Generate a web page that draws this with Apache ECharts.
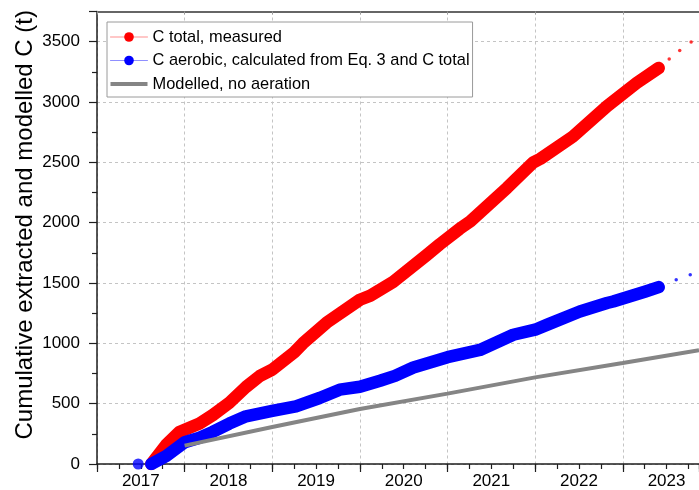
<!DOCTYPE html>
<html>
<head>
<meta charset="utf-8">
<script src="https://cdn.jsdelivr.net/npm/echarts@6/dist/echarts.min.js"></script>
<style>
  html, body { margin: 0; padding: 0; background: #fff; }
  #chart { width: 699px; height: 490px; }
</style>
</head>
<body>
<div id="chart"></div>
<script>
// Cumulative carbon extracted, [decimal year, tonnes C]
const totalMeasured = [
  [2017.62, 0], [2017.79, 160], [2017.94, 265], [2018.17, 335], [2018.32, 405],
  [2018.51, 508], [2018.70, 638], [2018.86, 730], [2019.00, 782], [2019.25, 925],
  [2019.35, 1000], [2019.62, 1171], [2020.00, 1361], [2020.12, 1395], [2020.38, 1510],
  [2020.76, 1730], [2020.91, 1820], [2021.14, 1950], [2021.26, 2010], [2021.68, 2289],
  [2021.98, 2500], [2022.06, 2530], [2022.43, 2713], [2022.82, 2965], [2023.16, 3158],
  [2023.41, 3282]
];
const totalMeasuredTail = [[2023.53, 3357], [2023.65, 3426], [2023.78, 3497]];

const aerobicCalculated = [
  [2017.62, 0], [2017.79, 66], [2018.00, 180], [2018.17, 218], [2018.32, 266],
  [2018.51, 335], [2018.70, 395], [2019.00, 440], [2019.27, 478], [2019.54, 547],
  [2019.77, 616], [2020.00, 640], [2020.23, 690], [2020.40, 730], [2020.61, 800],
  [2021.00, 885], [2021.37, 945], [2021.75, 1071], [2022.00, 1113], [2022.14, 1155],
  [2022.51, 1264], [2022.82, 1334], [2022.89, 1347], [2023.26, 1430], [2023.41, 1466]
];
const aerobicFirstPoint = [[2017.47, 0]];
const aerobicCalculatedTail = [[2023.61, 1527], [2023.77, 1568]];

// Model run without aeration
const modelledNoAeration = [
  [2018.00, 152], [2019.00, 307], [2020.00, 456], [2021.00, 583],
  [2022.00, 718], [2023.00, 837], [2023.87, 942]
];

const yearLabels = ['2017', '2018', '2019', '2020', '2021', '2022', '2023'];
const firstYear = 2017;
const lastYear = 2023.87;

const NAME_TOTAL = 'C total, measured';
const NAME_AEROBIC = 'C aerobic, calculated from Eq. 3 and C total';
const NAME_MODEL = 'Modelled, no aeration';

const FONT = '"Liberation Sans", Arial, Helvetica, sans-serif';
const AXIS_COLOR = '#1e1e1e';
const GRID_LINE = { show: true, lineStyle: { color: '#c4c4c4', width: 1, type: [3, 3] } };

const chart = echarts.init(document.getElementById('chart'), null, { renderer: 'canvas' });

chart.setOption({
  animation: false,
  backgroundColor: '#fff',
  grid: { left: 97, right: 0, top: 11.5, bottom: 26, containLabel: false, outerBoundsMode: 'none' },
  legend: {
    orient: 'vertical',
    left: 107,
    top: 22,
    padding: [7, 3, 5, 3],
    itemGap: 7.5,
    itemWidth: 37,
    itemHeight: 12,
    backgroundColor: '#fff',
    borderColor: '#9a9a9a',
    borderWidth: 1,
    borderRadius: 0,
    textStyle: { fontFamily: FONT, fontSize: 16.4, color: '#000' },
    data: [
      { name: NAME_TOTAL, lineStyle: { color: '#ff8f8f', width: 1 } },
      { name: NAME_AEROBIC, lineStyle: { color: '#8f8fff', width: 1 } },
      { name: NAME_MODEL, icon: 'path://M0,0H37V4H0Z' }
    ]
  },
  xAxis: [
    { // year boundaries: long ticks and vertical grid lines
      type: 'value', min: firstYear, max: lastYear, interval: 1, position: 'bottom',
      axisLine: { show: true, onZero: false, lineStyle: { color: AXIS_COLOR, width: 1.5 } },
      axisTick: { show: true, length: 8, lineStyle: { color: AXIS_COLOR, width: 1.2 } },
      axisLabel: { show: false },
      splitLine: GRID_LINE
    },
    { // quarter ticks, year names centred on each year
      type: 'value', min: firstYear, max: lastYear, interval: 0.25, position: 'bottom',
      axisLine: { show: false, onZero: false },
      axisTick: { show: true, length: 5, lineStyle: { color: AXIS_COLOR, width: 1.2 } },
      axisLabel: {
        show: true, margin: 9, fontFamily: FONT, fontSize: 17, color: '#000',
        formatter: function (v) {
          const y = Math.floor(v + 1e-6);
          if (Math.abs(v - y - 0.5) > 1e-6) return '';
          return yearLabels[y - firstYear] || '';
        }
      },
      splitLine: { show: false }
    },
    { // upper frame
      type: 'value', min: firstYear, max: lastYear, interval: 1, position: 'top',
      axisLine: { show: true, onZero: false, lineStyle: { color: '#666', width: 2 } },
      axisTick: { show: true, inside: true, length: 3, lineStyle: { color: '#999', width: 1 } },
      axisLabel: { show: false },
      splitLine: { show: false }
    }
  ],
  yAxis: {
    type: 'value', min: 0, max: 3750, interval: 500,
    name: 'Cumulative extracted and modelled C (t)',
    nameLocation: 'middle',
    nameGap: 60,
    nameMoveOverlap: false,
    nameTextStyle: { fontFamily: FONT, fontSize: 24, color: '#000', padding: [0, 0, 0, 26] },
    axisLine: { show: true, onZero: false, lineStyle: { color: AXIS_COLOR, width: 1.5 } },
    axisTick: { show: true, length: 8, lineStyle: { color: AXIS_COLOR, width: 1.2 } },
    minorTick: { show: true, splitNumber: 2, length: 5, lineStyle: { color: AXIS_COLOR, width: 1.2 } },
    axisLabel: {
      fontFamily: FONT, fontSize: 17, color: '#000', margin: 17, showMaxLabel: false,
      formatter: function (v) { return String(v); }
    },
    splitLine: GRID_LINE
  },
  series: [
    {
      name: NAME_TOTAL, type: 'line', xAxisIndex: 0, data: totalMeasured,
      symbol: 'circle', showSymbol: false, z: 3,
      itemStyle: { color: '#ff0000' },
      lineStyle: { color: '#ff0000', width: 12.5, cap: 'round', join: 'round' }
    },
    {
      name: NAME_TOTAL, type: 'scatter', xAxisIndex: 0, data: totalMeasuredTail,
      symbol: 'circle', symbolSize: 3.5, z: 3, itemStyle: { color: '#ff0000' }
    },
    {
      name: NAME_AEROBIC, type: 'line', xAxisIndex: 0, data: aerobicCalculated,
      symbol: 'circle', showSymbol: false, z: 4,
      itemStyle: { color: '#0000ff' },
      lineStyle: { color: '#0000ff', width: 12.5, cap: 'round', join: 'round' }
    },
    {
      name: NAME_AEROBIC, type: 'scatter', xAxisIndex: 0, data: aerobicFirstPoint,
      symbol: 'circle', symbolSize: 11, z: 4, itemStyle: { color: '#0000ff' }
    },
    {
      name: NAME_AEROBIC, type: 'scatter', xAxisIndex: 0, data: aerobicCalculatedTail,
      symbol: 'circle', symbolSize: 3.5, z: 4, itemStyle: { color: '#0000ff' }
    },
    {
      name: NAME_MODEL, type: 'line', xAxisIndex: 0, data: modelledNoAeration,
      symbol: 'none', z: 5,
      itemStyle: { color: '#858585' },
      lineStyle: { color: '#858585', width: 4, cap: 'butt' }
    }
  ]
});
</script>
</body>
</html>
